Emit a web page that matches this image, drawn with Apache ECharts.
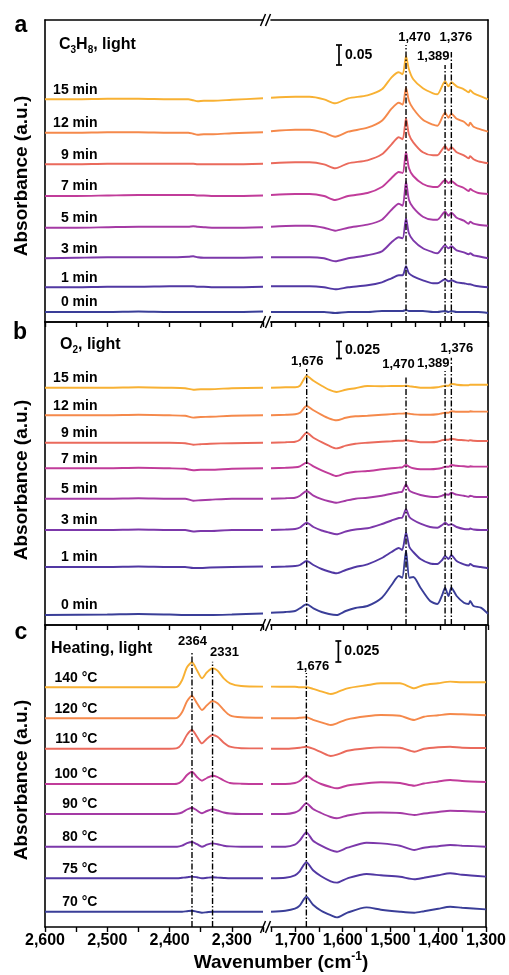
<!DOCTYPE html>
<html>
<head>
<meta charset="utf-8">
<script src="https://cdn.jsdelivr.net/npm/echarts@6/dist/echarts.min.js"></script>
<style>
  html, body { margin: 0; padding: 0; background: #fff; }
  #chart { width: 509px; height: 975px; }
</style>
</head>
<body>
<div id="chart"></div>
<script>
const FONT = 'Liberation Sans, Arial, Helvetica, sans-serif';

// curve colours, top curve first
const colors = ['#f8b133', '#f5894b', '#ea6a5c', '#c13c9a', '#a53aa5', '#7c38aa', '#5138a3', '#3a3e98'];

// ---- panel a : C3H8, light (values in a.u., scale bar 20 = 0.05) ----
const aNames = ['15 min', '12 min', '9 min', '7 min', '5 min', '3 min', '1 min', '0 min'];
const aOffsets = [222.7, 189.3, 157.7, 126, 94.3, 63.7, 34.7, 10];
const aWnLeft = [2600, 2550, 2500, 2450, 2400, 2370, 2362, 2355, 2345, 2330, 2300, 2250];
const aLeft = [
  [0, 0, 0.5, 0.5, 0, 0, -1, -2, -1.5, -1.5, -0.5, 1],
  [0, 0, 0.5, 0.5, 0, 0, -1, -2, -1.5, -1.5, -0.5, 0.5],
  [0, 0, 0.5, 0.5, 0.5, 0.5, 0.5, 0, 0, 0, 0, 0.5],
  [0, 0, 0.5, 1, 1, 1, 1, 0.5, 0.5, 0, 0, 0.5],
  [0, 0, 0.5, 1, 1, 1, 1.5, 1, 0.5, 0, 0, 0.5],
  [0, 0.5, 1, 1, 1, 1.5, 2, 1, 0.5, 0.5, 0.5, 1],
  [0, 0, 0.5, 0.5, 1, 1, 1, 0.5, 0.5, 0, 0, 0.5],
  [0, 0, 0, 0.5, 0, 0, 0, 0, 0, 0, 0, 0.5]
];
const aWnRight = [1750, 1700, 1670, 1640, 1617, 1590, 1550, 1520, 1500, 1485, 1477, 1470, 1464, 1455, 1435, 1414, 1405, 1389, 1382, 1376, 1365, 1350, 1340, 1337, 1330, 1320, 1300];
const aRight = [
  [1.5, 2.5, 2.5, 0, -4, 1, 4, 10, 22, 27, 25, 43, 30, 20, 11, 6, 5, 18, 13, 17, 13, 10, 7, 9, 6, 4, 0],
  [1.5, 3, 3, 0, -4, 1, 5, 12, 24, 30, 28, 45, 32, 24, 13, 8, 7, 20, 15, 19, 14, 11, 7, 10, 6, 4, 1],
  [1, 2, 2, 0, -4, 1, 4, 10, 20, 27, 25, 46, 30, 22, 12, 9, 9, 18, 14, 17, 12, 9, 6, 8, 5, 3, 1],
  [1, 2, 2, 0, -4, 0, 3, 9, 18, 24, 23, 44, 28, 20, 12, 9, 9, 16, 13, 15, 11, 8, 5, 7, 5, 3, 2],
  [1, 2, 2, 0, -3, 0, 3, 8, 18, 24, 22, 46, 28, 20, 11, 8, 8, 16, 12, 15, 10, 7, 4, 6, 4, 3, 2],
  [1, 1, 1, 0, -3, 0, 3, 7, 16, 21, 20, 40, 25, 18, 10, 6, 5, 13, 10, 12, 8, 6, 4, 5, 3, 2, 0],
  [1, 1, 1, 0, -2, 0, 2, 5, 9, 12, 12, 21, 14, 11, 7, 4, 4, 8, 6, 7, 5, 4, 3, 3, 2, 1, 0],
  [0, 0, 0, 0, -1, 0, 0, 1, 1, 1, 1, 2, 1, 1, 1, 0, 0, 1, 0, 1, 0, 0, 0, 0, 0, 0, -1]
];

// ---- panel b : O2, light (scale bar 17 = 0.025) ----
const bNames = ['15 min', '12 min', '9 min', '7 min', '5 min', '3 min', '1 min', '0 min'];
const bOffsets = [237.3, 209.7, 182.3, 156.7, 126.3, 95, 58, 10];
const bWnLeft = [2600, 2500, 2450, 2400, 2375, 2362, 2350, 2335, 2300, 2250];
const bLeft = [
  [0, 0, 0.5, 0, -0.5, -2, -1.5, -1.5, -0.5, 0],
  [0, 0, 0.5, 0, -0.5, -2.3, -1.7, -1.5, -0.5, 0],
  [0, 0, 0, 0, -0.5, -2, -1.5, -1, -0.5, 0],
  [0, 0, 0.5, 0, -0.5, -2, -1.5, -1.5, -0.5, 0],
  [0, 0, 0.5, 0, 0, -2, -1.5, -1, 0, 0],
  [0, 0, 0.5, 0, 0, -1.5, -1, -1, 0, 0],
  [0, 0, 0.5, 0, 0, -1, -1, -0.5, 0, 0.5],
  [0, 0.5, 1, 0.5, 0, 0, 0, 0, 0.5, 1.5]
];
const bWnRight = [1750, 1720, 1700, 1690, 1676, 1662, 1645, 1630, 1614, 1595, 1575, 1550, 1520, 1500, 1485, 1478, 1470, 1463, 1455, 1440, 1420, 1405, 1395, 1389, 1382, 1376, 1365, 1350, 1340, 1337, 1330, 1315, 1300];
const bRight = [
  [0, 0.5, 0.5, 2, 11.7, 7, 2, -2, -4.3, -2, -0.5, 1.7, 1.5, 1.7, 1.7, 1.7, 2, 1.5, 1, 0, 0, 0.5, 1.5, 2, 2, 4, 3, 2.5, 2.5, 3, 3, 3, 3],
  [0, 0.5, 1, 2.5, 9.3, 5, 0.5, -3, -5, -2.5, -1, -0.5, 0.5, 1.2, 1.7, 1.7, 2, 1.5, 1, 0.5, 0.5, 1, 2, 2.5, 2.5, 4, 3.5, 3.5, 3.5, 4, 3.7, 3.7, 3.7],
  [0, 0.5, 1, 3, 10, 5, 0.5, -3, -5.7, -3, -1, 0, 1, 1.5, 2, 2, 2.5, 2, 1.5, 0.5, 0.5, 1, 2.5, 3, 3, 4, 3, 2.5, 2, 2.5, 2, 1.7, 1.7],
  [0, 0.5, 1, 2, 5.7, 2, -2, -5, -7.7, -5, -3.5, -2.7, -1, 0, 0.7, 1, 3.3, 1.5, 0, -1, -1, -0.5, 0.5, 1.5, 1.5, 3.3, 2.5, 2, 1.5, 2, 1.7, 1.7, 1.7],
  [0, 0.5, 1, 3, 7.7, 3, -0.5, -2.5, -4, -2, 0, 1, 3, 5, 6.5, 7, 14.3, 8, 6, 3.7, 2, 1.7, 3, 4.3, 4, 6, 4, 3, 2, 3, 2, 1.7, 1.7],
  [0, 0.5, 1, 2.5, 7.3, 3, -0.5, -2.5, -4.3, -1.5, 0.5, 1.7, 6, 9.5, 12, 12.3, 20.7, 13, 10, 6.3, 3, 2.3, 5, 7.3, 5, 5.7, 3, 1, 0.7, 1.5, 0.5, 0, 0],
  [0, 0.5, 1, 2, 6, 2, -2, -4.5, -6.3, -3, 0, 2.7, 9, 15, 19, 17, 34.3, 20, 15, 8, 3.5, 3, 7, 11, 8, 11.7, 6, 2.7, 1.5, 3, 1, 0, -1.3],
  [2.3, 3, 4, 6.7, 10.7, 6.7, 3, 1, 0, 4, 7, 9, 17.3, 30, 39, 37.3, 64, 37.3, 38, 27.3, 14, 11, 20, 27.3, 19, 27.3, 19, 12.3, 11, 14, 9, 7.3, 1.3]
];

// ---- panel c : Heating, light (scale bar 21 = 0.025) ----
const cNames = ['140 °C', '120 °C', '110 °C', '100 °C', '90 °C', '80 °C', '75 °C', '70 °C'];
const cOffsets = [239.7, 208.7, 178.3, 143, 113, 80.3, 48.7, 15.3];
const cWnLeft = [2600, 2500, 2400, 2388, 2380, 2372, 2364, 2356, 2348, 2340, 2331, 2323, 2313, 2303, 2285, 2250];
const cLeft = [
  [0, 0, 0, 0.5, 7, 20, 25, 17, 9, 15, 19, 16.7, 9, 4, 1.3, 0.7],
  [0, 0, 0, 0.5, 6, 17, 22.3, 15, 8.3, 13, 17.3, 15, 8.3, 3, 1, 0.5],
  [0, 0, 0, 0.5, 5, 14, 18.7, 12, 5.3, 10, 13.7, 12, 6, 2, 0.5, 0.3],
  [0, 0, 0, 0.3, 3, 9, 12.3, 7, 3.3, 6, 8.3, 7, 3.5, 1, 0.3, 0],
  [0, 0, 0, 0.3, 1.5, 4.5, 6.3, 3.5, 0.7, 3, 4.7, 3.5, 1.5, 0.5, 0, 0],
  [0, 0, 0, 0, 1, 3.5, 4.7, 2.5, 0, 2, 3.3, 2.5, 1, 0.3, 0, 0],
  [0, 0, 0, 0, 0.5, 1, 1.7, 1, 0, 0.5, 1, 0.7, 0.3, 0, 0, 0],
  [0, 0, 0, 0, 0, 0.5, 1, 0, -1, -0.5, 0, 0, 0, 0, 0, 0]
];
const cWnRight = [1750, 1720, 1700, 1690, 1676, 1662, 1645, 1625, 1612, 1590, 1550, 1520, 1480, 1450, 1430, 1400, 1375, 1350, 1300];
const cRight = [
  [0.7, 0.5, 0.5, 0, 0, -1.5, -4, -6.7, -5, -1, 2, 4, 4, -1, 2.3, 4, 5.7, 5, 5],
  [0, 0, 0, 0.5, 1, -1.5, -4, -6.7, -5, -1, 2, 3.3, 2.5, -1.7, 1.5, 3, 4.3, 4, 3],
  [0, 0, 0.5, 1, 2, 0, -3.5, -7.3, -6, -2, 0.5, 1.3, 1, -3, 0, 1.5, 2, 1, 0.7],
  [0, 0, 1, 3, 8.3, 4, 0, -3, -4.3, -1.5, 0.7, 1.7, 1, -1.7, 0.5, 2.5, 4, 3, 2],
  [0, 0, 1.5, 4, 10.7, 5, 1, -3, -4.3, -1.5, 1.3, 1.5, 1, -1, 0.5, 2, 3.3, 3, 2],
  [0, 0, 2, 6, 14.3, 6, 1, -3.5, -5, -1, 4, 3.3, 1, -3.3, -1, 0.5, 1.7, 1, 0],
  [0, 0.5, 3, 7, 16, 8, 2, -3, -4.3, 0, 4.3, 3, 1.5, -1, 0.5, 3, 5, 3.5, 1.7],
  [0, 1, 3, 6, 15, 7, 1, -3.5, -5.7, -1, 4.3, 2, 0, -1, 0.5, 3, 5, 4, 2.3]
];

// marked bands: wavenumber, top of the dash-dot line, label, label height
const aPeaks = [1470, 1389, 1376];
const aPeakTops = [277, 257, 270];
const aPeakText = ['1,470', '1,389', '1,376'];
const aPeakTextY = [284, 265, 284];
const bPeaks = [1676, 1470, 1389, 1376];
const bPeakTops = [256, 249, 254, 267.3];
const bPeakText = ['1,676', '1,470', '1,389', '1,376'];
const bPeakTextY = [263.3, 260, 261, 276];
const cPeaksLeft = [2364, 2331];
const cPeakTopsLeft = [274, 265.3];
const cPeakTextLeft = ['2364', '2331'];
const cPeakTextYLeft = [285.3, 274];
const cPeaksRight = [1676];
const cPeakTopsRight = [254];
const cPeakTextRight = ['1,676'];
const cPeakTextYRight = [260.3];

// scale bars: wavenumber, lower end, length, text
const scaleBars = [
  [1609, 257, 20, '0.05'],
  [1609, 266.5, 17, '0.025'],
  [1609, 265, 21, '0.025']
];

const headers = ['C{s|3}H{s|8}, light', 'O{s|2}, light', 'Heating, light'];
const letters = ['a', 'b', 'c'];

// ---------------- layout ----------------
const panelTop = [20, 322, 625];
const panelH = [302, 303, 302];
const segLeft = [45, 271];
const segWidth = [218, 217];
const segMin = [2250, 1300];
const segMax = [2600, 1750];

const panels = [
  { names: aNames, off: aOffsets, wn: [aWnLeft, aWnRight], vals: [aLeft, aRight],
    marks: [[], aPeaks.map((w, i) => [w, aPeakTops[i], aPeakText[i], aPeakTextY[i]])] },
  { names: bNames, off: bOffsets, wn: [bWnLeft, bWnRight], vals: [bLeft, bRight],
    marks: [[], bPeaks.map((w, i) => [w, bPeakTops[i], bPeakText[i], bPeakTextY[i]])] },
  { names: cNames, off: cOffsets, wn: [cWnLeft, cWnRight], vals: [cLeft, cRight],
    marks: [cPeaksLeft.map((w, i) => [w, cPeakTopsLeft[i], cPeakTextLeft[i], cPeakTextYLeft[i]]),
            cPeaksRight.map((w, i) => [w, cPeakTopsRight[i], cPeakTextRight[i], cPeakTextYRight[i]])] }
];

// label placement tweaks for the band labels (px): [align, dx]
const markLabelStyle = {
  '0-1470': ['center', 9], '0-1389': ['right', 5], '0-1376': ['center', 5],
  '1-1676': ['center', 1], '1-1470': ['center', -7], '1-1389': ['right', 5], '1-1376': ['center', 6],
  '2-2364': ['center', 1], '2-2331': ['left', -2], '2-1676': ['center', 7]
};

const grids = [], xAxes = [], xTopAxes = [], yAxes = [], series = [];
const black = '#000';
// invisible carrier points for text labels (scatter defaults to 0.8 opacity)
const hiddenPoint = { color: 'rgba(0,0,0,0)', opacity: 1 };

panels.forEach((pn, p) => {
  [0, 1].forEach(s => {
    const gi = p * 2 + s;
    grids.push({ left: segLeft[s], width: segWidth[s], top: panelTop[p], height: panelH[p] });
    xAxes.push({
      type: 'value', gridIndex: gi, inverse: true, min: segMin[s], max: segMax[s], interval: 50,
      position: 'bottom',
      axisLine: { show: true, onZero: false, lineStyle: { color: black, width: 1.6 } },
      axisTick: { show: true, length: 5, lineStyle: { color: black, width: 1.4 } },
      axisLabel: {
        show: p === 2, margin: 6, color: black, fontSize: 16, fontWeight: 'bold', fontFamily: FONT,
        showMinLabel: true, showMaxLabel: true, hideOverlap: false,
        formatter: v => (v % 100 === 0 ? v.toLocaleString('en-US') : '')
      },
      splitLine: { show: false }
    });
    xTopAxes.push({
      type: 'value', gridIndex: gi, inverse: true, min: segMin[s], max: segMax[s], position: 'top',
      axisLine: { show: true, onZero: false, lineStyle: { color: black, width: 1.6 } },
      axisTick: { show: false }, axisLabel: { show: false }, splitLine: { show: false }
    });
    yAxes.push({
      type: 'value', gridIndex: gi, min: 0, max: panelH[p], position: s ? 'right' : 'left',
      axisLine: { show: true, onZero: false, lineStyle: { color: black, width: 1.6 } },
      axisTick: { show: false }, axisLabel: { show: false }, splitLine: { show: false }
    });

    // spectra
    pn.vals[s].forEach((vals, i) => {
      series.push({
        type: 'line', xAxisIndex: gi, yAxisIndex: gi, silent: true, z: 3,
        symbol: 'none', smooth: 0.25,
        lineStyle: { color: colors[i], width: 1.9 },
        data: pn.wn[s].map((w, k) => [w, pn.off[i] + vals[k]])
      });
    });

    // dash-dot band markers
    pn.marks[s].forEach(m => {
      series.push({
        type: 'line', xAxisIndex: gi, yAxisIndex: gi, silent: true, z: 4, symbol: 'none',
        lineStyle: { color: black, width: 1.4, type: [6, 2, 1.5, 2] },
        data: [[m[0], 0], [m[0], m[1]]]
      });
    });
    if (pn.marks[s].length) {
      series.push({
        type: 'scatter', xAxisIndex: gi, yAxisIndex: gi, silent: true, z: 5,
        symbolSize: 1, itemStyle: hiddenPoint,
        data: pn.marks[s].map(m => {
          const st = markLabelStyle[p + '-' + m[0]] || ['center', 0];
          return {
            value: [m[0], m[3]],
            label: { show: true, formatter: m[2], position: [0, 0], align: st[0], verticalAlign: 'middle',
                     offset: [st[1], 0], color: black, fontSize: 13, fontWeight: 'bold', fontFamily: FONT }
          };
        })
      });
    }
  });

  // curve names, on the left segment
  series.push({
    type: 'scatter', xAxisIndex: p * 2, yAxisIndex: p * 2, silent: true, z: 5,
    symbolSize: 1, itemStyle: hiddenPoint,
    data: pn.names.map((n, i) => ({
      value: [2515, pn.off[i]],
      label: { show: true, formatter: n, position: [0, 0], align: 'right', verticalAlign: 'bottom',
               offset: [0, -2], color: black, fontSize: 14, fontWeight: 'bold', fontFamily: FONT }
    }))
  });

  // scale bar
  series.push({
    type: 'custom', xAxisIndex: p * 2 + 1, yAxisIndex: p * 2 + 1, silent: true, z: 5,
    data: [scaleBars[p].slice(0, 3)],
    renderItem: (params, api) => {
      const lo = api.coord([api.value(0), api.value(1)]);
      const hi = api.coord([api.value(0), api.value(1) + api.value(2)]);
      const st = { stroke: black, lineWidth: 1.7 };
      return {
        type: 'group',
        children: [
          { type: 'line', shape: { x1: lo[0], y1: lo[1], x2: hi[0], y2: hi[1] }, style: st },
          { type: 'line', shape: { x1: lo[0] - 3, y1: lo[1], x2: lo[0] + 3, y2: lo[1] }, style: st },
          { type: 'line', shape: { x1: hi[0] - 3, y1: hi[1], x2: hi[0] + 3, y2: hi[1] }, style: st },
          { type: 'text', x: lo[0] + 6, y: (lo[1] + hi[1]) / 2,
            style: { text: scaleBars[p][3], fill: black, fontSize: 14, fontWeight: 'bold', fontFamily: FONT,
                     align: 'left', verticalAlign: 'middle' } }
        ]
      };
    }
  });
});

// static texts and axis-break marks
const graphic = [];
const letterPos = [[21, 26], [20, 333], [21, 633]];
const headerPos = [[59, 45], [60, 345], [51, 649]];
const yNamePos = [[22, 176], [22, 480], [22, 780]];
letters.forEach((l, p) => {
  graphic.push({ type: 'text', x: letterPos[p][0], y: letterPos[p][1], silent: true,
    style: { text: l, fill: black, fontSize: 23, fontWeight: 'bold', fontFamily: FONT, align: 'center', verticalAlign: 'middle' } });
  graphic.push({ type: 'text', x: headerPos[p][0], y: headerPos[p][1], silent: true,
    style: { text: headers[p], fill: black, fontSize: 16, fontWeight: 'bold', fontFamily: FONT, lineHeight: 20,
      align: 'left', verticalAlign: 'middle',
      rich: { s: { fontSize: 10, fontWeight: 'bold', fontFamily: FONT, lineHeight: 10, verticalAlign: 'bottom' } } } });
  graphic.push({ type: 'text', x: yNamePos[p][0], y: yNamePos[p][1], rotation: Math.PI / 2, silent: true,
    style: { text: 'Absorbance (a.u.)', fill: black, fontSize: 19, fontWeight: 'bold', fontFamily: FONT, align: 'center', verticalAlign: 'middle' } });
});
graphic.push({ type: 'text', x: 281, y: 963, silent: true,
  style: { text: 'Wavenumber (cm{sup|-1})', fill: black, fontSize: 19, fontWeight: 'bold', fontFamily: FONT, lineHeight: 24,
    align: 'center', verticalAlign: 'middle',
    rich: { sup: { fontSize: 12, fontWeight: 'bold', fontFamily: FONT, lineHeight: 12, verticalAlign: 'top' } } } });
[20, 322, 625, 927].forEach(y => {
  [263, 268].forEach(x => {
    graphic.push({ type: 'line', silent: true, z: 10,
      shape: { x1: x - 2.5, y1: y + 6, x2: x + 2.5, y2: y - 6 }, style: { stroke: black, lineWidth: 1.5 } });
  });
});

const chart = echarts.init(document.getElementById('chart'), null, { renderer: 'canvas' });
chart.setOption({
  animation: false,
  backgroundColor: '#fff',
  textStyle: { fontFamily: FONT },
  grid: grids,
  xAxis: xAxes.concat(xTopAxes),
  yAxis: yAxes,
  series: series,
  graphic: graphic
});
</script>
</body>
</html>
